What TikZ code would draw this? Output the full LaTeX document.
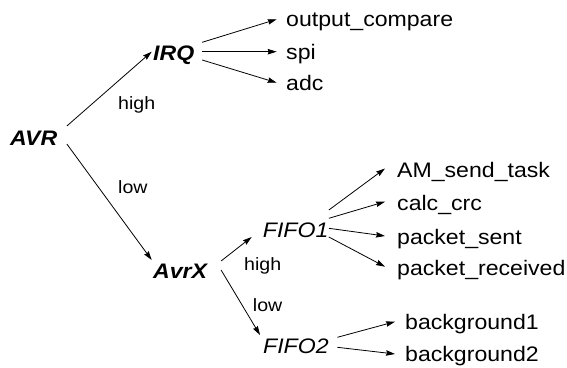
\documentclass[tikz,border=0pt]{standalone}
\usepackage{fontspec}
\setmainfont{Liberation Sans}
\usetikzlibrary{arrows.meta}
\newcommand\hsc[1]{\scalebox{1.1}[1]{#1}}
\begin{document}
\begin{tikzpicture}[x=1pt,y=-1pt,
  txt/.style={inner sep=0pt,anchor=base west,font=\fontsize{21}{25}\selectfont},
  lbl/.style={inner sep=0pt,anchor=base west,font=\fontsize{17.8}{21}\selectfont},
  arr/.style={line width=0.8pt,-{Stealth[length=9pt,width=5.5pt,inset=1pt]}}]
\useasboundingbox (0,0) rectangle (567,367);
% main nodes
\node[txt] (AVR) at (10,145) {\hsc{\textbf{\textit{AVR}}}};
\node[txt] (IRQ) at (153,60) {\hsc{\textbf{\textit{IRQ}}}};
\node[txt] (AvrX) at (153,278) {\hsc{\textbf{\textit{AvrX}}}};
\node[txt] (F1) at (262.7,237) {\hsc{\textit{FIFO1}}};
\node[txt] (F2) at (263,353) {\hsc{\textit{FIFO2}}};
% leaves
\node[txt] (oc) at (286,26.5) {\hsc{output\_compare}};
\node[txt] (spi) at (286,59) {\hsc{spi}};
\node[txt] (adc) at (286,90) {\hsc{adc}};
\node[txt] (am) at (397,177) {\hsc{AM\_send\_task}};
\node[txt] (crc) at (397,210) {\hsc{calc\_crc}};
\node[txt] (ps) at (397,244) {\hsc{packet\_sent}};
\node[txt] (pr) at (397,275) {\hsc{packet\_received}};
\node[txt] (b1) at (405,329) {\hsc{background1}};
\node[txt] (b2) at (405,361) {\hsc{background2}};
% labels
\node[lbl] (l1) at (118,109.3) {\hsc{high}};
\node[lbl] (l2) at (118,193.3) {\hsc{low}};
\node[lbl] (l3) at (244,270) {\hsc{high}};
\node[lbl] (l4) at (252.7,311.7) {\hsc{low}};
% connectors
\draw[arr] ([shift={(9.4pt,19pt)}]AVR.base east) -- ([shift={(-1.3pt,8.3pt)}]IRQ.base west);
\draw[arr] ([shift={(9.4pt,1pt)}]AVR.base east) -- ([shift={(-1.3pt,18pt)}]AvrX.base west);
\draw[arr] ([shift={(7.7pt,17.7pt)}]IRQ.base east) -- ([shift={(-9.3pt,7.2pt)}]oc.base west);
\draw[arr] ([shift={(7.7pt,8.3pt)}]IRQ.base east) -- ([shift={(-9.3pt,7.3pt)}]spi.base west);
\draw[arr] ([shift={(7.7pt,0pt)}]IRQ.base east) -- ([shift={(-9.3pt,7.3pt)}]adc.base west);
\draw[arr] ([shift={(12.6pt,17pt)}]AvrX.base east) -- ([shift={(-11pt,0pt)}]F1.base west);
\draw[arr] ([shift={(12.6pt,8pt)}]AvrX.base east) -- ([shift={(-3pt,18pt)}]F2.base west);
\draw[arr] ([shift={(0.3pt,27pt)}]F1.base east) -- ([shift={(-12pt,8.5pt)}]am.base west);
\draw[arr] ([shift={(0.3pt,18.7pt)}]F1.base east) -- ([shift={(-12pt,8.3pt)}]crc.base west);
\draw[arr] ([shift={(0.3pt,8.7pt)}]F1.base east) -- ([shift={(-12pt,8pt)}]ps.base west);
\draw[arr] ([shift={(0.3pt,0pt)}]F1.base east) -- ([shift={(-12pt,8.3pt)}]pr.base west);
\draw[arr] ([shift={(8.5pt,15.7pt)}]F2.base east) -- ([shift={(-10pt,7.3pt)}]b1.base west);
\draw[arr] ([shift={(8.5pt,5.7pt)}]F2.base east) -- ([shift={(-10pt,7pt)}]b2.base west);
\end{tikzpicture}
\end{document}
